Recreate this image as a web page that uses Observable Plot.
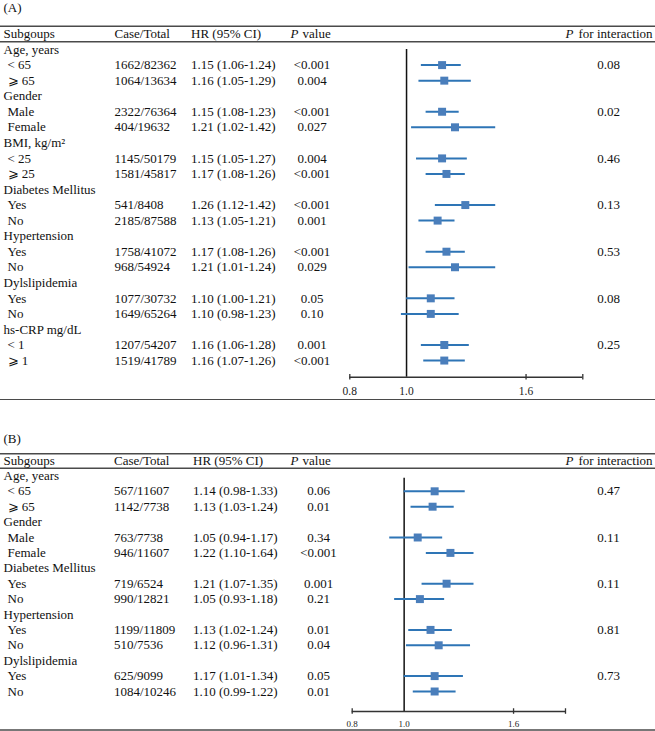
<!DOCTYPE html>
<html>
<head>
<meta charset="utf-8">
<script src="https://cdn.jsdelivr.net/npm/d3@7"></script>
<script src="https://cdn.jsdelivr.net/npm/@observablehq/plot@0.6"></script>
<style>
  html, body { margin: 0; padding: 0; background: #fff; }
  #chart { width: 655px; }
  #chart svg { display: block; font-family: 'Liberation Serif', 'Times New Roman', 'DejaVu Serif', serif; }
</style>
</head>
<body>
<div id="chart"></div>
<script>
// ---------------- Panel A data ----------------
const aSubgroups = ["Age, years", "< 65", "⩾ 65", "Gender", "Male", "Female", "BMI, kg/m²", "< 25", "⩾ 25",
  "Diabetes Mellitus", "Yes", "No", "Hypertension", "Yes", "No", "Dylslipidemia", "Yes", "No",
  "hs-CRP mg/dL", "< 1", "⩾ 1"];
const aCaseTotal = ["", "1662/82362", "1064/13634", "", "2322/76364", "404/19632", "", "1145/50179", "1581/45817",
  "", "541/8408", "2185/87588", "", "1758/41072", "968/54924", "", "1077/30732", "1649/65264",
  "", "1207/54207", "1519/41789"];
const aHRText = ["", "1.15 (1.06-1.24)", "1.16 (1.05-1.29)", "", "1.15 (1.08-1.23)", "1.21 (1.02-1.42)", "",
  "1.15 (1.05-1.27)", "1.17 (1.08-1.26)", "", "1.26 (1.12-1.42)", "1.13 (1.05-1.21)", "",
  "1.17 (1.08-1.26)", "1.21 (1.01-1.24)", "", "1.10 (1.00-1.21)", "1.10 (0.98-1.23)", "",
  "1.16 (1.06-1.28)", "1.16 (1.07-1.26)"];
const aPValue = ["", "<0.001", "0.004", "", "<0.001", "0.027", "", "0.004", "<0.001", "", "<0.001", "0.001",
  "", "<0.001", "0.029", "", "0.05", "0.10", "", "0.001", "<0.001"];
const aPInteraction = ["", "0.08", "", "", "0.02", "", "", "0.46", "", "", "0.13", "", "", "0.53", "", "",
  "0.08", "", "", "0.25", ""];
// plotted estimates (as drawn)
const aHR = [null, 1.15, 1.16, null, 1.15, 1.21, null, 1.15, 1.17, null, 1.26, 1.13, null, 1.17, 1.21, null, 1.10, 1.10, null, 1.16, 1.16];
const aLo = [null, 1.06, 1.05, null, 1.08, 1.02, null, 1.04, 1.08, null, 1.12, 1.05, null, 1.08, 1.01, null, 1.00, 0.98, null, 1.06, 1.07];
const aHi = [null, 1.24, 1.29, null, 1.23, 1.42, null, 1.27, 1.26, null, 1.42, 1.21, null, 1.26, 1.42, null, 1.21, 1.23, null, 1.28, 1.26];

// ---------------- Panel B data ----------------
const bSubgroups = ["Age, years", "< 65", "⩾ 65", "Gender", "Male", "Female", "Diabetes Mellitus", "Yes", "No",
  "Hypertension", "Yes", "No", "Dylslipidemia", "Yes", "No"];
const bCaseTotal = ["", "567/11607", "1142/7738", "", "763/7738", "946/11607", "", "719/6524", "990/12821",
  "", "1199/11809", "510/7536", "", "625/9099", "1084/10246"];
const bHRText = ["", "1.14 (0.98-1.33)", "1.13 (1.03-1.24)", "", "1.05 (0.94-1.17)", "1.22 (1.10-1.64)", "",
  "1.21 (1.07-1.35)", "1.05 (0.93-1.18)", "", "1.13 (1.02-1.24)", "1.12 (0.96-1.31)", "",
  "1.17 (1.01-1.34)", "1.10 (0.99-1.22)"];
const bPValue = ["", "0.06", "0.01", "", "0.34", "<0.001", "", "0.001", "0.21", "", "0.01", "0.04", "", "0.05", "0.01"];
const bPInteraction = ["", "0.47", "", "", "0.11", "", "", "0.11", "", "", "0.81", "", "", "0.73", ""];
const bHR = [null, 1.14, 1.13, null, 1.06, 1.22, null, 1.20, 1.07, null, 1.12, 1.16, null, 1.14, 1.14];
const bLo = [null, 1.00, 1.03, null, 0.94, 1.10, null, 1.08, 0.96, null, 1.02, 1.01, null, 1.00, 1.04];
const bHi = [null, 1.30, 1.24, null, 1.18, 1.35, null, 1.35, 1.19, null, 1.23, 1.33, null, 1.29, 1.25];

// ---------------- Axis ----------------
const tickValues = [0.8, 1.0, 1.6, 2.0];
const tickLabels = ["0.8", "1.0", "1.6", ""];
const headers = { sub: "Subgoups", ct: "Case/Total", hr: "HR (95% CI)", p: "value", pint: "for interaction" };

const FONT = "Liberation Serif, Times New Roman, DejaVu Serif, serif";
const FS = 13;
const LINE = "#2e75b6";
const SQUARE = "#4a7ebb";

function panel(cfg) {
  const rows = cfg.sub.map((label, i) => ({
    row: i + 1, label, group: cfg.hr[i] == null,
    ct: cfg.ct[i], hrText: cfg.hrText[i], p: cfg.p[i], pint: cfg.pint[i],
    hr: cfg.hr[i], lo: cfg.lo[i], hi: cfg.hi[i]
  }));
  const est = rows.filter(d => d.hr != null);
  const n = rows.length;
  const L = cfg.layout;
  const headerRow = [{row: 0}];
  const txt = (data, opts) => Plot.text(data, {frameAnchor: "left", lineAnchor: "middle", fill: "#111",
    fontFamily: FONT, fontSize: FS, ...opts});
  return Plot.plot({
    width: 655, height: cfg.height, margin: 0,
    x: {type: "log", domain: [0.8, 2.0], range: cfg.xRange, axis: null},
    y: {domain: [0, n], range: cfg.yRange, axis: null},
    marks: [
      // panel tag
      txt([{row: L.tag, t: cfg.tag}], {y: "row", text: "t", dx: 3, textAnchor: "start"}),
      // table rules
      Plot.ruleY([L.top, L.head, L.bottom], {stroke: "#4a4a4a", strokeWidth: 1.6}),
      // header
      txt(headerRow, {y: "row", text: () => headers.sub, dx: 3, textAnchor: "start"}),
      txt(headerRow, {y: "row", text: () => headers.ct, dx: cfg.colCT, textAnchor: "start"}),
      txt(headerRow, {y: "row", text: () => headers.hr, dx: cfg.colHR, textAnchor: "start"}),
      txt(headerRow, {y: "row", text: () => "P", dx: 290, textAnchor: "start", fontStyle: "italic"}),
      txt(headerRow, {y: "row", text: () => headers.p, dx: 302, textAnchor: "start"}),
      txt(headerRow, {frameAnchor: "right", y: "row", text: () => headers.pint, dx: -3, textAnchor: "end"}),
      txt(headerRow, {y: "row", text: () => "P", dx: 565, textAnchor: "start", fontStyle: "italic"}),
      // body
      txt(rows.filter(d => d.group), {y: "row", text: "label", dx: 3, textAnchor: "start"}),
      txt(rows.filter(d => !d.group), {y: "row", text: "label", dx: 7, textAnchor: "start"}),
      txt(rows, {y: "row", text: "ct", dx: cfg.colCT, textAnchor: "start"}),
      txt(rows, {y: "row", text: "hrText", dx: cfg.colHR, textAnchor: "start"}),
      txt(rows, {y: "row", text: "p", dx: cfg.colP, textAnchor: "middle"}),
      txt(rows, {y: "row", text: "pint", dx: 608, textAnchor: "middle"}),
      // forest
      Plot.ruleX([1], {x: d => d, y1: L.refStart, y2: L.axis, stroke: "#111", strokeWidth: 1.5}),
      Plot.ruleY([L.axis], {y: d => d, x1: tickValues[0], x2: tickValues[tickValues.length - 1], stroke: "#333", strokeWidth: 1.5}),
      Plot.ruleX(tickValues.filter(v => v !== 1), {x: d => d, y1: L.axis - 0.18, y2: L.axis + 0.18, stroke: "#333", strokeWidth: 1.3}),
      Plot.text(tickValues, {x: d => d, y: L.labels, text: (d, i) => tickLabels[i], fontSize: cfg.tickFont,
        fontFamily: FONT, fill: "#222", lineAnchor: "middle"}),
      Plot.ruleY(est, {y: "row", x1: "lo", x2: "hi", stroke: LINE, strokeWidth: 2}),
      Plot.dot(est, {x: "hr", y: "row", symbol: "square", r: 4.5, fill: SQUARE, stroke: "none"})
    ]
  });
}

const chart = document.getElementById("chart");
chart.append(panel({
  tag: "(A)", sub: aSubgroups, ct: aCaseTotal, hrText: aHRText, p: aPValue, pint: aPInteraction,
  hr: aHR, lo: aLo, hi: aHi,
  height: 400, xRange: [349.3, 582.3], yRange: [33.5, 33.5 + 21 * 15.55],
  colCT: 114, colHR: 190.5, colP: 311.5, tickFont: 11.5,
  layout: {tag: -1.7, top: -0.5, head: 0.5, bottom: 23.52, refStart: 1, axis: 22.07, labels: 22.97}
}));
chart.append(panel({
  tag: "(B)", sub: bSubgroups, ct: bCaseTotal, hrText: bHRText, p: bPValue, pint: bPInteraction,
  hr: bHR, lo: bLo, hi: bHi,
  height: 331, xRange: [351.7, 565], yRange: [60, 60 + 15 * 15.4],
  colCT: 113.5, colHR: 192.5, colP: 318, tickFont: 9,
  layout: {tag: -1.41, top: -0.44, head: 0.5, bottom: 17.5, refStart: 1.15, axis: 16.3, labels: 17.1}
}));
</script>
</body>
</html>
